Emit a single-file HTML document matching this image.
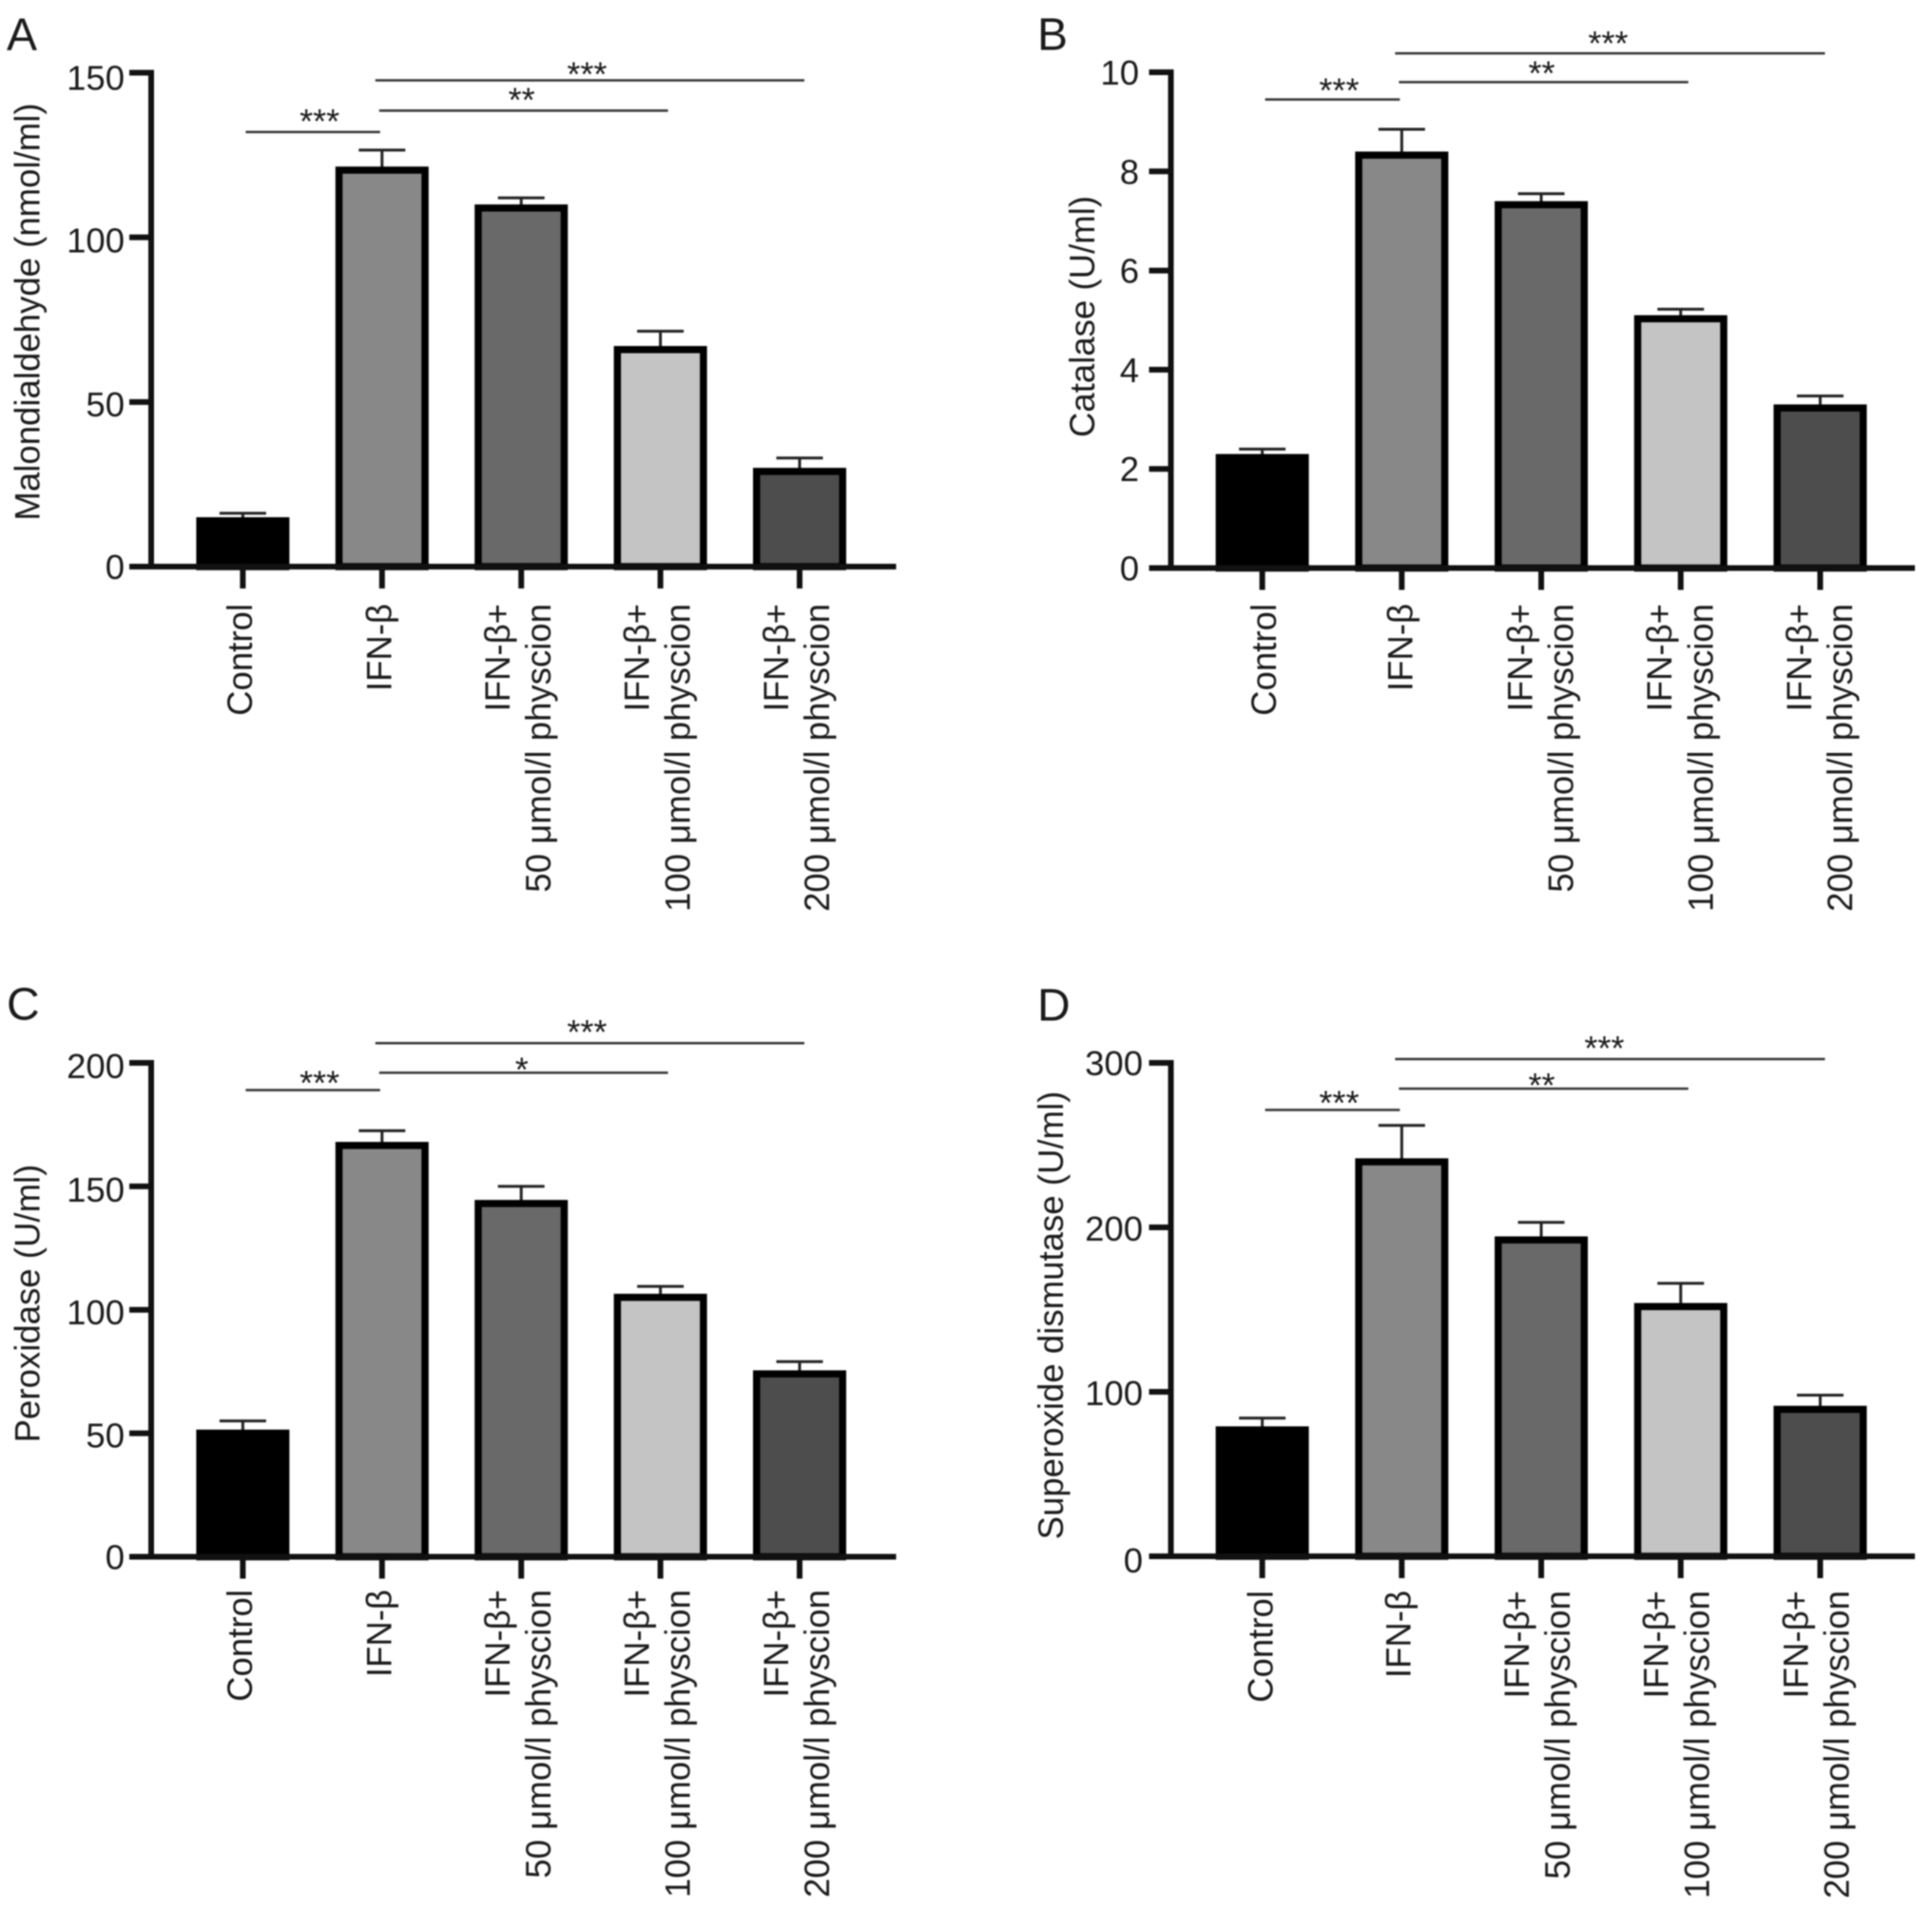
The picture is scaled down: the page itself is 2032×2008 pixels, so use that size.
<!DOCTYPE html>
<html lang="en">
<head>
<meta charset="utf-8">
<title>Oxidative stress markers by treatment group</title>
<style>
html,body{margin:0;padding:0;background:#fff;width:2032px;height:2008px;overflow:hidden}
svg{display:block;position:absolute;left:0;top:0;filter:blur(0.7px)}
text{font-family:"Liberation Sans",sans-serif;fill:#1a1a1a}
</style>
</head>
<body>
<svg id="figure" xmlns="http://www.w3.org/2000/svg" width="2032" height="2008" viewBox="0 0 2032 2008">
<rect x="0" y="0" width="2032" height="2008" fill="#fff"/>
</svg>
<script>
// ---- data ----
const categories = [["Control"],["IFN-β"],["IFN-β+","50 μmol/l physcion"],["IFN-β+","100 μmol/l physcion"],["IFN-β+","200 μmol/l physcion"]];
const sigFrom = [0,1,1];
const sigTo = [1,3,4];

const valuesA = [15,121.5,110,67,30];
const errorsA = [1.2,5,2,4.5,3];
const ticksA = [0,50,100,150];
const sigLevelsA = [132,138.5,147.7];
const sigLabelsA = ["***","**","***"];

const valuesB = [2.3,8.4,7.4,5.1,3.3];
const errorsB = [0.1,0.45,0.15,0.12,0.17];
const ticksB = [0,2,4,6,8,10];
const sigLevelsB = [9.45,9.8,10.38];
const sigLabelsB = ["***","**","***"];

const valuesC = [51.5,168,144.5,106.5,75.5];
const errorsC = [3.5,4.5,5.5,3,3.5];
const ticksC = [0,50,100,150,200];
const sigLevelsC = [189,196,208];
const sigLabelsC = ["***","*","***"];

const valuesD = [79,242,194.5,154,91.5];
const errorsD = [5,20,8.5,12,6.5];
const ticksD = [0,100,200,300];
const sigLevelsD = [271.4,284.3,302.3];
const sigLabelsD = ["***","**","***"];

const fills = ["#000000","#888888","#696969","#c4c4c4","#4d4d4d"];

// ---- layout ----
const panels = [
 {id:"a",letter:"A",lx:7,ly:52.5,title:"Malondialdehyde (nmol/ml)",tx:41.6,ty:328,
  axisX:159,left:136,right:942.5,top:76.5,base:596,max:150,x0:255.4,step:146.4,
  tickRight:131,tickDy:[0,2,3,5],labelEnd:635,single:[9.6,9.6],l1:-12,l2:31,
  values:valuesA,errors:errorsA,ticks:ticksA,levels:sigLevelsA,labels:sigLabelsA,gaps:[17,17,12],starX:[7,-2,-3]},
 {id:"b",letter:"B",lx:1091,ly:52.5,title:"Catalase (U/ml)",tx:1151,ty:333,
  axisX:1231.5,left:1208.5,right:2014,top:76,base:597.5,max:10,x0:1327.6,step:146.7,
  tickRight:1198,tickDy:[0,0,0,0,0,0],labelEnd:635,single:[14.5,11],l1:-9.6,l2:33.6,
  values:valuesB,errors:errorsB,ticks:ticksB,levels:sigLevelsB,labels:sigLabelsB,gaps:[15,15,16],starX:[7,-2,-2]},
 {id:"c",letter:"C",lx:7,ly:1072.5,title:"Peroxidase (U/ml)",tx:41.6,ty:1371,
  axisX:159,left:136,right:942.5,top:1118,base:1637.5,max:200,x0:255.4,step:146.4,
  tickRight:131,tickDy:[0,2,2,3,3],labelEnd:1672,single:[9.6,9.6],l1:-12,l2:31,
  values:valuesC,errors:errorsC,ticks:ticksC,levels:sigLevelsC,labels:sigLabelsC,gaps:[13,9,17],starX:[7,-2,-3]},
 {id:"d",letter:"D",lx:1091,ly:1073.7,title:"Superoxide dismutase (U/ml)",tx:1118,ty:1383.5,
  axisX:1231.5,left:1208.5,right:2014,top:1118,base:1637,max:300,x0:1327.6,step:146.7,
  tickRight:1202,tickDy:[4,1,1,0],labelEnd:1673,single:[10.8,9],l1:-13,l2:30,
  values:valuesD,errors:errorsD,ticks:ticksD,levels:sigLevelsD,labels:sigLabelsD,gaps:[13,9,17],starX:[7,-2,-6]}
];

const svg = document.getElementById("figure");
const NS = "http://www.w3.org/2000/svg";
function mk(parent, tag, attrs, txt){
  const el = document.createElementNS(NS, tag);
  for (const k in attrs) el.setAttribute(k, attrs[k]);
  if (txt !== undefined) el.textContent = txt;
  parent.appendChild(el);
  return el;
}

panels.forEach(function(p){
  const yScale = function(v){ return p.base - (v / p.max) * (p.base - p.top); };
  const xScale = function(i){ return p.x0 + i * p.step; };

  const g = mk(svg, "g", {});
  
  

  const letter = mk(g, "text", {x:p.lx, y:p.ly, "font-size":48}, p.letter);
  
  

  const title = mk(g, "text", {x:p.tx, y:p.ty, "font-size":36.6, "text-anchor":"middle",
    transform:"rotate(-90 " + p.tx + " " + p.ty + ")"}, p.title);
  
  

  // bars and error bars
  p.values.forEach(function(v, i){
    const cx = xScale(i);
    const top = yScale(v);
    const errTop = yScale(v + p.errors[i]);

    const stem = mk(g, "line", {x1:cx, x2:cx, y1:errTop, y2:top + 2, stroke:"#222", "stroke-width":3});
    
    

    const cap = mk(g, "line", {x1:cx - 24.5, x2:cx + 24.5, y1:errTop, y2:errTop, stroke:"#222", "stroke-width":3});
    
    

    const bar = mk(g, "rect", {x:cx - 45.25, y:top + 3.75, width:90.5, height:Math.max(0, p.base - top - 3.75),
      fill:fills[i], stroke:"#000", "stroke-width":7.5});
    
    

    const tick = mk(g, "line", {x1:cx, x2:cx, y1:p.base, y2:p.base + 23, stroke:"#111", "stroke-width":6});
    
    

    // category labels
    const lines = categories[i];
    const offsets = lines.length === 1 ? [p.single[i]] : [p.l1, p.l2];
    lines.forEach(function(s, j){
      const bx = cx + offsets[j];
      const lab = mk(g, "text", {x:bx, y:p.labelEnd, "font-size":36.6, "text-anchor":"end",
        transform:"rotate(-90 " + bx + " " + p.labelEnd + ")"}, s);
      
      
    });
  });

  // axes
  const yAxis = mk(g, "line", {x1:p.axisX, x2:p.axisX, y1:p.top - 3, y2:p.base + 3, stroke:"#111", "stroke-width":6});
  
  

  const xAxis = mk(g, "line", {x1:p.left, x2:p.right, y1:p.base, y2:p.base, stroke:"#111", "stroke-width":6});
  
  

  // y ticks and labels
  p.ticks.forEach(function(t, i){
    const y = yScale(t);
    if (t !== 0) {
      const tk = mk(g, "line", {x1:p.left, x2:p.axisX, y1:y, y2:y, stroke:"#111", "stroke-width":6});
      
      
    }
    const lb = mk(g, "text", {x:p.tickRight, y:y + 13 + p.tickDy[i], "font-size":36.5, "text-anchor":"end"}, String(t));
    
    
  });

  // significance lines
  const sigStart = [3, -3, -7];
  const sigEnd = [-2, 8, 5];
  p.levels.forEach(function(level, i){
    const x1 = xScale(sigFrom[i]) + sigStart[i];
    const x2 = xScale(sigTo[i]) + sigEnd[i];
    const y = yScale(level);
    const ln = mk(g, "line", {x1:x1, x2:x2, y1:y, y2:y, stroke:"#333", "stroke-width":2.5});
    
    

    const st = mk(g, "text", {x:(x1 + x2) / 2 + p.starX[i], y:y - p.gaps[i] + 18, "font-size":36, "text-anchor":"middle"}, p.labels[i]);
    
    
  });
});
</script>
</body>
</html>
